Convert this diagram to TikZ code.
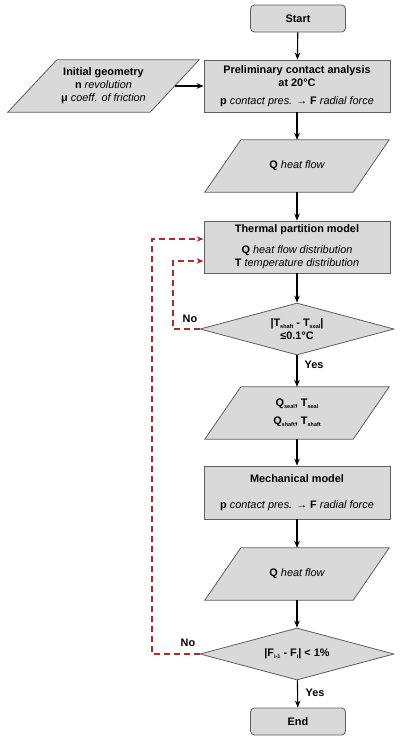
\documentclass[tikz,border=0pt]{standalone}
\usepackage{fontspec}
\setmainfont{Liberation Sans}
\usetikzlibrary{shapes.geometric,arrows.meta,calc,backgrounds}
\definecolor{boxfill}{RGB}{217,217,217}
\definecolor{boxline}{RGB}{95,95,95}
\definecolor{loopred}{RGB}{165,45,45}
\newcommand\lite[1]{{\mdseries\itshape #1}}
\newcommand\sbs[1]{\raisebox{-1.6pt}{\fontsize{5.5}{6}\selectfont #1}}
\begin{document}
\begin{tikzpicture}[x=1pt,y=-1pt,
  every node/.style={font=\fontsize{10.9}{13}\selectfont\bfseries},
  proc/.style={rectangle, draw=boxline, fill=boxfill, line width=0.8pt, minimum width=186pt, minimum height=52pt, inner sep=0pt, align=center},
  term/.style={rectangle, rounded corners=4pt, draw=boxline, fill=boxfill, line width=0.8pt, minimum width=95pt, minimum height=27pt, inner sep=0pt},
  io/.style={rectangle, minimum width=148pt, minimum height=52pt, inner sep=0pt, align=center},
  pgram/.style={draw=boxline, fill=boxfill, line width=0.8pt},
  dec/.style={diamond, aspect=3.7, draw=boxline, fill=boxfill, line width=0.8pt, minimum width=194pt, minimum height=52pt, inner sep=0pt, align=center},
  flow/.style={-{Stealth[length=7pt,width=5.5pt]}, line width=1.1pt, black},
  loopback/.style={-{Stealth[length=7pt,width=5.5pt]}, dash pattern=on 6pt off 4pt, loopred, line width=1.1pt},
  lbl/.style={inner sep=0pt}
]
\useasboundingbox (0,0) rectangle (401,740);

\node[term] (start) at (298,18.5) {Start};
\node[proc] (prelim) at (297,86) {Preliminary contact analysis\\ at 20°C\\[5pt] p \lite{contact pres.} → F \lite{radial force}};
\node[io, minimum width=142pt] (init) at (103.5,86) {Initial geometry\\ n \lite{revolution}\\ μ \lite{coeff. of friction}};
\node[io] (q1) at (297,166) {Q \lite{heat flow}};
\node[proc] (thermal) at (297,247) {Thermal partition model\\[8pt] Q \lite{heat flow distribution}\\ T \lite{temperature distribution}};
\node[dec] (d1) at (297,329) {|T\sbs{shaft} - T\sbs{seal}|\\ ≤0.1°C};
\node[io] (qs) at (297,413) {Q\sbs{seal}, T\sbs{seal}\\[5pt] Q\sbs{shaft}, T\sbs{shaft}};
\node[proc, minimum height=53pt] (mech) at (297,492.5) {Mechanical model\\[13pt] p \lite{contact pres.} → F \lite{radial force}};
\node[io] (q2) at (297,574) {Q \lite{heat flow}};
\node[dec] (d2) at (297,654) {|F\sbs{i-1} - F\sbs{i}| < 1\%};
\node[term] (end) at (298,721.5) {End};

\begin{pgfonlayer}{background}
  \draw[pgram] ($(init.north west)+(24.5,0)$) -- ($(init.north east)+(24.5,0)$) -- ($(init.south east)-(24.5,0)$) -- ($(init.south west)-(24.5,0)$) -- cycle;
  \foreach \n in {q1,qs,q2}{
    \draw[pgram] ($(\n.north west)+(18,0)$) -- ($(\n.north east)+(18,0)$) -- ($(\n.south east)-(18,0)$) -- ($(\n.south west)-(18,0)$) -- cycle;
  }
\end{pgfonlayer}

\draw[flow] (start) -- (prelim);
\draw[flow] (init.east) -- (prelim.west);
\draw[flow] (prelim) -- (q1.north);
\draw[flow] (q1.south) -- (thermal);
\draw[flow] (thermal) -- (d1);
\draw[flow] (d1) -- (qs.north);
\draw[flow] (qs.south) -- (mech);
\draw[flow] (mech) -- (q2.north);
\draw[flow] (q2.south) -- (d2);
\draw[flow] (d2) -- (end);

\coordinate (k1) at (173,329);
\coordinate (k2) at (152,654);
\draw[loopback] (d1.west) -- (k1) |- ([yshift=-14pt]thermal.west);
\draw[loopback] (d2.west) -- (k2) |- ([yshift=8pt]thermal.west);

\node[lbl] (no1) at (190,319) {No};
\node[lbl] (no2) at (188,643) {No};
\node[lbl] (yes1) at (314,365) {Yes};
\node[lbl] (yes2) at (315,693) {Yes};
\end{tikzpicture}
\end{document}
